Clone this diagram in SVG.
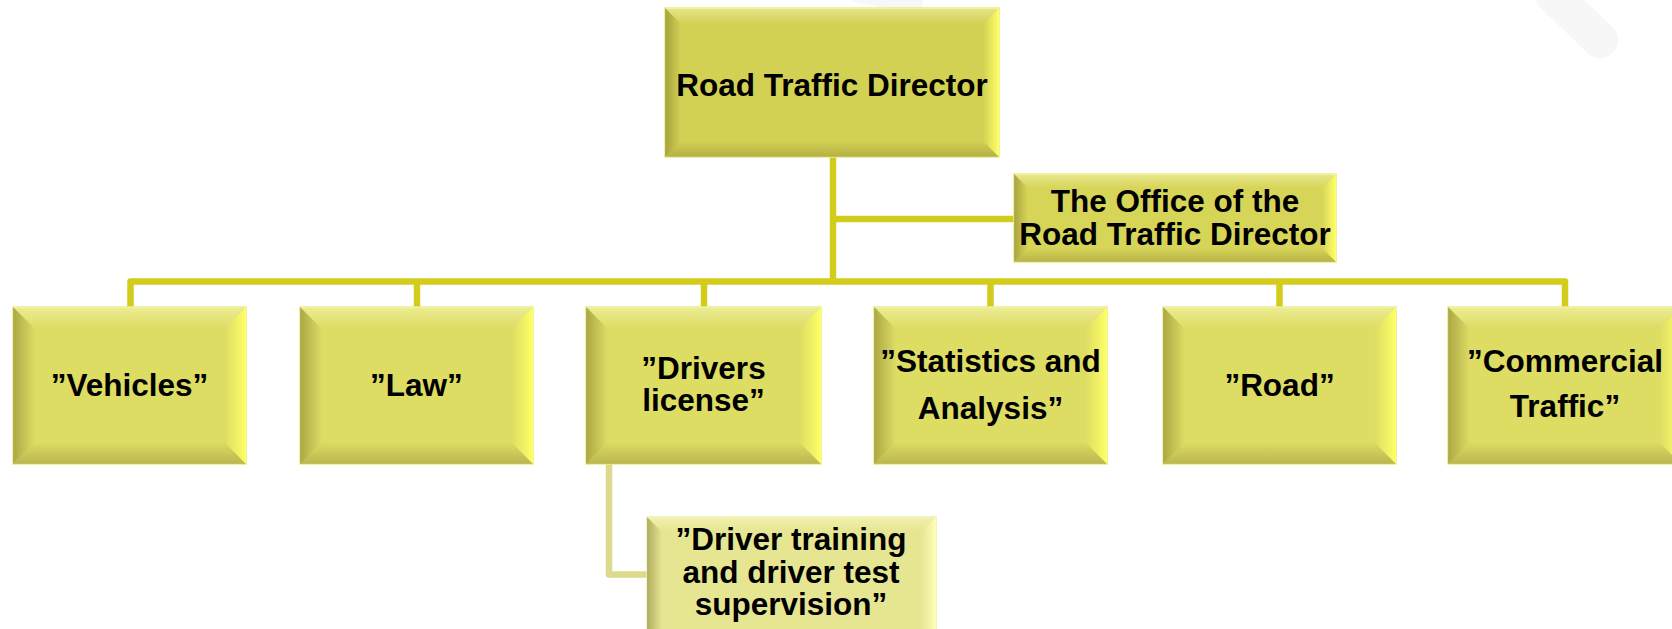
<svg xmlns="http://www.w3.org/2000/svg" width="1672" height="629" viewBox="0 0 1672 629">
<style>
.face{fill:#dddc63;stroke:#ecec86;stroke-width:1.5}
.top .face{fill:#d3d154}
.office .face{fill:#d7d558}
.sub .face{fill:#e6e592;stroke:#eeeeb0}
.bT{fill:url(#gTop)}
.bL{fill:url(#gLeft)}
.bR{fill:url(#gRight)}
.bB{fill:url(#gBot)}
.sub .bR{fill:url(#gRightS)}
.conn{fill:none;stroke:#d2cd1c;stroke-width:6.5;stroke-linejoin:round}
.connS{fill:none;stroke:#dcdb8c;stroke-width:6.5;stroke-linejoin:round}
text{font-family:"Liberation Sans",Arial,sans-serif;font-weight:bold;font-size:31.5px;fill:#000;text-anchor:middle}
</style>
<defs>
<linearGradient id="gTop" x1="0" y1="0" x2="0" y2="1"><stop offset="0" stop-color="#ffffd0" stop-opacity="0.45"/><stop offset="1" stop-color="#ffffd0" stop-opacity="0"/></linearGradient>
<linearGradient id="gLeft" x1="0" y1="0" x2="1" y2="0"><stop offset="0" stop-color="#6e6820" stop-opacity="0.45"/><stop offset="1" stop-color="#6e6820" stop-opacity="0"/></linearGradient>
<linearGradient id="gRight" x1="0" y1="0" x2="1" y2="0"><stop offset="0" stop-color="#ffff66" stop-opacity="0"/><stop offset="1" stop-color="#ffff66" stop-opacity="1"/></linearGradient>
<linearGradient id="gRightS" x1="0" y1="0" x2="1" y2="0"><stop offset="0" stop-color="#ffffb8" stop-opacity="0"/><stop offset="1" stop-color="#ffffb8" stop-opacity="1"/></linearGradient>
<linearGradient id="gBot" x1="0" y1="0" x2="0" y2="1"><stop offset="0" stop-color="#7a7028" stop-opacity="0"/><stop offset="1" stop-color="#7a7028" stop-opacity="0.35"/></linearGradient>
</defs>
<rect width="1672" height="629" fill="#ffffff"/>
<g id="background" fill="none" stroke="#f7f7f7" stroke-linecap="round">
<path d="M1552 -6 L1600 40" stroke-width="36"/>
<path d="M860 -8 L912 2" stroke-width="22"/>
</g>
<g id="connectors">
<path class="conn" d="M833 157 V282"/>
<path class="conn" d="M833 219 H1014"/>
<path class="conn" d="M130.5 307 V281.5 H1565 V307"/>
<path class="conn" d="M417 281.5 V307"/>
<path class="conn" d="M704 281.5 V307"/>
<path class="conn" d="M990.5 281.5 V307"/>
<path class="conn" d="M1279.5 281.5 V307"/>
<path class="connS" d="M609 464 V574.5 H647"/>
</g>
<g id="road-traffic-director" class="top">
<rect class="face" x="665" y="8" width="334" height="149"/>
<polygon class="bT" points="665,8 999,8 983,24 681,24"/>
<polygon class="bL" points="665,8 681,24 681,141 665,157"/>
<polygon class="bR" points="983,24 999,8 999,157 983,141"/>
<polygon class="bB" points="681,141 983,141 999,157 665,157"/>
<text x="832" y="96">Road Traffic Director</text>
</g>
<g id="office" class="office">
<rect class="face" x="1014" y="174" width="322" height="88"/>
<polygon class="bT" points="1014,174 1336,174 1322,188 1028,188"/>
<polygon class="bL" points="1014,174 1028,188 1028,248 1014,262"/>
<polygon class="bR" points="1322,188 1336,174 1336,262 1322,248"/>
<polygon class="bB" points="1028,248 1322,248 1336,262 1014,262"/>
<text x="1175" y="212">The Office of the</text>
<text x="1175" y="244.5">Road Traffic Director</text>
</g>
<g id="vehicles">
<rect class="face" x="13" y="307" width="233" height="157"/>
<polygon class="bT" points="13,307 246,307 224,329 35,329"/>
<polygon class="bL" points="13,307 35,329 35,442 13,464"/>
<polygon class="bR" points="224,329 246,307 246,464 224,442"/>
<polygon class="bB" points="35,442 224,442 246,464 13,464"/>
<text x="129.5" y="396">”Vehicles”</text>
</g>
<g id="law">
<rect class="face" x="300" y="307" width="233" height="157"/>
<polygon class="bT" points="300,307 533,307 511,329 322,329"/>
<polygon class="bL" points="300,307 322,329 322,442 300,464"/>
<polygon class="bR" points="511,329 533,307 533,464 511,442"/>
<polygon class="bB" points="322,442 511,442 533,464 300,464"/>
<text x="416.5" y="396">”Law”</text>
</g>
<g id="drivers-license">
<rect class="face" x="586" y="307" width="235" height="157"/>
<polygon class="bT" points="586,307 821,307 799,329 608,329"/>
<polygon class="bL" points="586,307 608,329 608,442 586,464"/>
<polygon class="bR" points="799,329 821,307 821,464 799,442"/>
<polygon class="bB" points="608,442 799,442 821,464 586,464"/>
<text x="703.5" y="379">”Drivers</text>
<text x="703.5" y="411">license”</text>
</g>
<g id="statistics">
<rect class="face" x="874" y="307" width="233" height="157"/>
<polygon class="bT" points="874,307 1107,307 1085,329 896,329"/>
<polygon class="bL" points="874,307 896,329 896,442 874,464"/>
<polygon class="bR" points="1085,329 1107,307 1107,464 1085,442"/>
<polygon class="bB" points="896,442 1085,442 1107,464 874,464"/>
<text x="990.5" y="372">”Statistics and</text>
<text x="990.5" y="419">Analysis”</text>
</g>
<g id="road">
<rect class="face" x="1163" y="307" width="233" height="157"/>
<polygon class="bT" points="1163,307 1396,307 1374,329 1185,329"/>
<polygon class="bL" points="1163,307 1185,329 1185,442 1163,464"/>
<polygon class="bR" points="1374,329 1396,307 1396,464 1374,442"/>
<polygon class="bB" points="1185,442 1374,442 1396,464 1163,464"/>
<text x="1279.5" y="396">”Road”</text>
</g>
<g id="commercial-traffic">
<rect class="face" x="1448" y="307" width="233" height="157"/>
<polygon class="bT" points="1448,307 1681,307 1659,329 1470,329"/>
<polygon class="bL" points="1448,307 1470,329 1470,442 1448,464"/>
<polygon class="bR" points="1659,329 1681,307 1681,464 1659,442"/>
<polygon class="bB" points="1470,442 1659,442 1681,464 1448,464"/>
<text x="1565" y="372">”Commercial</text>
<text x="1565" y="417">Traffic”</text>
</g>
<g id="driver-training" class="sub">
<rect class="face" x="647" y="517" width="289" height="130"/>
<polygon class="bT" points="647,517 936,517 921,532 662,532"/>
<polygon class="bL" points="647,517 662,532 662,632 647,647"/>
<polygon class="bR" points="921,532 936,517 936,647 921,632"/>
<polygon class="bB" points="662,632 921,632 936,647 647,647"/>
<text x="791" y="550">”Driver training</text>
<text x="791" y="583">and driver test</text>
<text x="791" y="615">supervision”</text>
</g>
</svg>
